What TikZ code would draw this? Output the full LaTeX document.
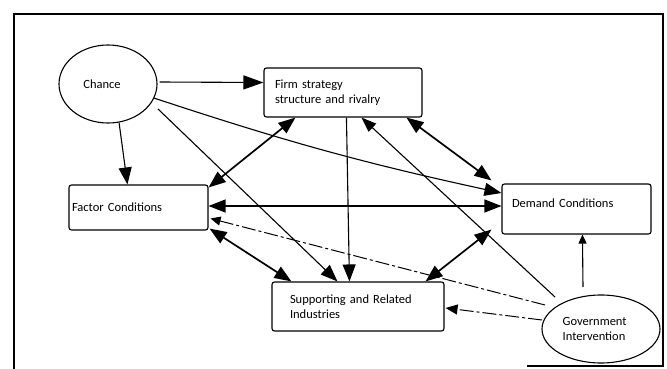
\documentclass[tikz,border=0pt]{standalone}
\usepackage{fontspec}
\setmainfont{Carlito}
\usetikzlibrary{arrows.meta,shapes.geometric,calc}

\begin{document}
\begin{tikzpicture}[x=1pt,y=-1pt,
  label font/.style={font=\fontsize{12.5}{15}\selectfont},
  box/.style={draw, line width=1.1pt, rounded corners=2.5pt, align=left,
    inner ysep=0pt, label font},
  oval/.style={draw, line width=1.1pt, ellipse, inner sep=0pt, align=left, label font},
  bighead/.tip={Triangle[length=17pt,width=13pt]},
  one/.style={-{bighead}, line width=1.1pt},
  both/.style={{bighead}-{bighead}, line width=1.7pt},
  govdash/.style={dash pattern=on 14pt off 3pt on 3pt off 3pt, line width=1pt}
]
\useasboundingbox (0,0) rectangle (667,369);

% outer frame
\draw[line width=1.3pt] (527,366) -- (663,366) -- (663,14) -- (14,14) -- (14,369);

% the six determinants
\node[oval, minimum width=98, minimum height=78] (chance) at (108,84)
  {Chance\hspace*{12pt}};
\node[box, minimum width=158, minimum height=49, inner xsep=11pt, text width=136pt]
  (firm) at (343,92.5) {Firm strategy\\structure and rivalry};
\node[box, minimum width=139, minimum height=45, inner xsep=3pt, text width=133pt]
  (factor) at (138.5,207.5) {Factor Conditions};
\node[box, minimum width=149, minimum height=50, inner xsep=10pt, text width=129pt,
  text depth=12pt] (demand) at (576.5,209) {Demand Conditions};
\node[box, minimum width=172, minimum height=49, inner xsep=18pt, text width=136pt]
  (support) at (358,306.5) {Supporting and Related\\Industries};
\node[oval, minimum width=118, minimum height=68] (gov) at (601,329)
  {Government\\Intervention\hspace*{14pt}};

% influence of chance
\draw[one, -{Triangle[length=20pt,width=14pt]}] ($(chance.east)+(2,-2)$) -- ($(firm.west)+(0,-10)$);
\draw[one] (chance.-74) -- ($(factor.north west)+(59,0)$);
\draw[one] (chance.-17) to[bend right=3] ($(demand.west)+(0,-16)$);
\draw[one] ($(chance.center)+(50,25)$) -- ($(support.north west)+(66,0)$);

% mutual links of the diamond
\draw[both] ($(firm.south west)+(32,0)$) -- ($(factor.north east)+(0,3)$);
\draw[one] ($(firm.south west)+(83,0)$) -- ($(support.north west)+(78,0)$);
\draw[both] ($(firm.south west)+(143,0)$) -- ($(demand.north west)+(-10,-3)$);
\draw[both, line width=1.2pt] ($(factor.east)+(0,-1.5)$) -- ($(demand.west)+(0,-3)$);
\draw[both] ($(factor.south east)+(1,-2)$) -- ($(support.north west)+(20,0)$);
\draw[both] ($(support.north east)+(-19,0)$) -- ($(demand.south west)+(-10,-5)$);

% government intervention
\draw[one, -{Triangle[length=15pt,width=11pt]}] ($(gov.center)+(-46,-32)$) -- ($(firm.south west)+(98,0)$);
\draw[govdash, -{Triangle[length=10pt,width=9pt]}] ($(gov.center)+(-56,-24)$)
  -- ($(factor.east)+(2,11)$);
\draw[govdash, -{Triangle[length=12pt,width=10pt]}] ($(gov.center)+(-59,-9)$)
  -- ($(support.east)+(1,1.5)$);
\draw[line width=1.1pt, -{Triangle[length=9pt,width=8pt]}] ($(gov.center)+(-18,-42)$)
  -- ($(demand.south west)+(81,0)$);
\end{tikzpicture}
\end{document}
